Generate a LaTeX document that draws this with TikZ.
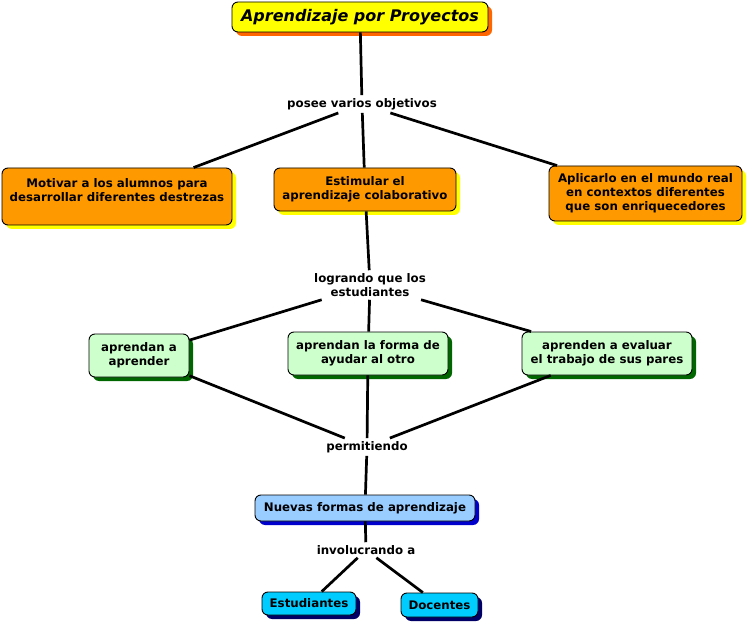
\documentclass[tikz,border=0pt]{standalone}
\usepackage{fontspec}
\setmainfont{DejaVu Sans}
\usetikzlibrary{shadows}
\definecolor{cmorange}{HTML}{FF9900}
\definecolor{cmtitleshadow}{HTML}{FF6600}
\definecolor{cmyellow}{HTML}{FFFF00}
\definecolor{cmgreen}{HTML}{CCFFCC}
\definecolor{cmdkgreen}{HTML}{006600}
\definecolor{cmblue}{HTML}{99CCFF}
\definecolor{cmdkblue}{HTML}{0000CC}
\definecolor{cmcyan}{HTML}{00CCFF}
\definecolor{cmnavy}{HTML}{000066}
\tikzset{
  box/.style={draw=black, line width=0.9pt, rounded corners=6pt, align=center,
    font=\fontsize{11.8}{14}\selectfont\bfseries, inner sep=2pt},
  titlebox/.style={box, fill=cmyellow, font=\fontsize{16}{18}\selectfont\bfseries\itshape,
    drop shadow={shadow xshift=4pt, shadow yshift=-4pt, fill=cmtitleshadow, opacity=1}},
  orangebox/.style={box, fill=cmorange,
    drop shadow={shadow xshift=4pt, shadow yshift=-4pt, fill=cmyellow, opacity=1}},
  greenbox/.style={box, fill=cmgreen,
    drop shadow={shadow xshift=4pt, shadow yshift=-4pt, fill=cmdkgreen, opacity=1}},
  bluebox/.style={box, fill=cmblue,
    drop shadow={shadow xshift=4pt, shadow yshift=-4pt, fill=cmdkblue, opacity=1}},
  cyanbox/.style={box, fill=cmcyan,
    drop shadow={shadow xshift=4pt, shadow yshift=-4pt, fill=cmnavy, opacity=1}},
  linklabel/.style={align=center, font=\fontsize{11.8}{14}\selectfont\bfseries, inner sep=3pt},
  conn/.style={line width=2.7pt, black}
}
\begin{document}
\begin{tikzpicture}[x=1pt, y=-1pt]
\useasboundingbox (0,0) rectangle (748,623);
% nodes
\node[titlebox, minimum width=256pt, minimum height=30pt] (title) at (360,17) {Aprendizaje por Proyectos};
\node[linklabel] (posee) at (362,104) {posee varios objetivos};
\node[orangebox, minimum width=230pt, minimum height=57pt] (motivar) at (117,196.5) {Motivar a los alumnos para\\desarrollar diferentes destrezas\\[-1pt]};
\node[orangebox, minimum width=182pt, minimum height=43pt] (estimular) at (365,189.5) {Estimular el\\aprendizaje colaborativo};
\node[orangebox, minimum width=193pt, minimum height=55pt] (aplicarlo) at (645.5,193.5) {Aplicarlo en el mundo real\\en contextos diferentes\\que son enriquecedores};
\node[linklabel] (logrando) at (370,285) {logrando que los\\estudiantes};
\node[greenbox, minimum width=100pt, minimum height=43pt] (aprender) at (139,355.5) {aprendan a\\aprender};
\node[greenbox, minimum width=160pt, minimum height=43pt] (ayudar) at (368,353.5) {aprendan la forma de\\ayudar al otro};
\node[greenbox, minimum width=170pt, minimum height=43pt] (evaluar) at (607,353.5) {aprenden a evaluar\\el trabajo de sus pares};
\node[linklabel] (permitiendo) at (367,447) {permitiendo};
\node[bluebox, minimum width=220pt, minimum height=26pt] (nuevas) at (365,508) {Nuevas formas de aprendizaje};
\node[linklabel] (involucrando) at (366,550) {involucrando a};
\node[cyanbox, minimum width=94pt, minimum height=23pt] (estudiantes) at (309,603.5) {Estudiantes};
\node[cyanbox, minimum width=77pt, minimum height=24pt] (docentes) at (439.5,605) {Docentes};
% connectors
\draw[conn] (title) -- (posee);
\draw[conn] (posee) -- (motivar);
\draw[conn] (posee) -- (estimular);
\draw[conn] (posee) -- (aplicarlo);
\draw[conn] (estimular) -- (logrando);
\draw[conn] (logrando) -- (aprender);
\draw[conn] (logrando) -- (ayudar);
\draw[conn] (logrando) -- (evaluar);
\draw[conn] (aprender) -- (permitiendo);
\draw[conn] (ayudar) -- (permitiendo);
\draw[conn] (evaluar) -- (permitiendo);
\draw[conn] (permitiendo) -- (nuevas);
\draw[conn] (nuevas) -- (involucrando);
\draw[conn] (involucrando) -- (estudiantes);
\draw[conn] (involucrando) -- (docentes);
\end{tikzpicture}
\end{document}
